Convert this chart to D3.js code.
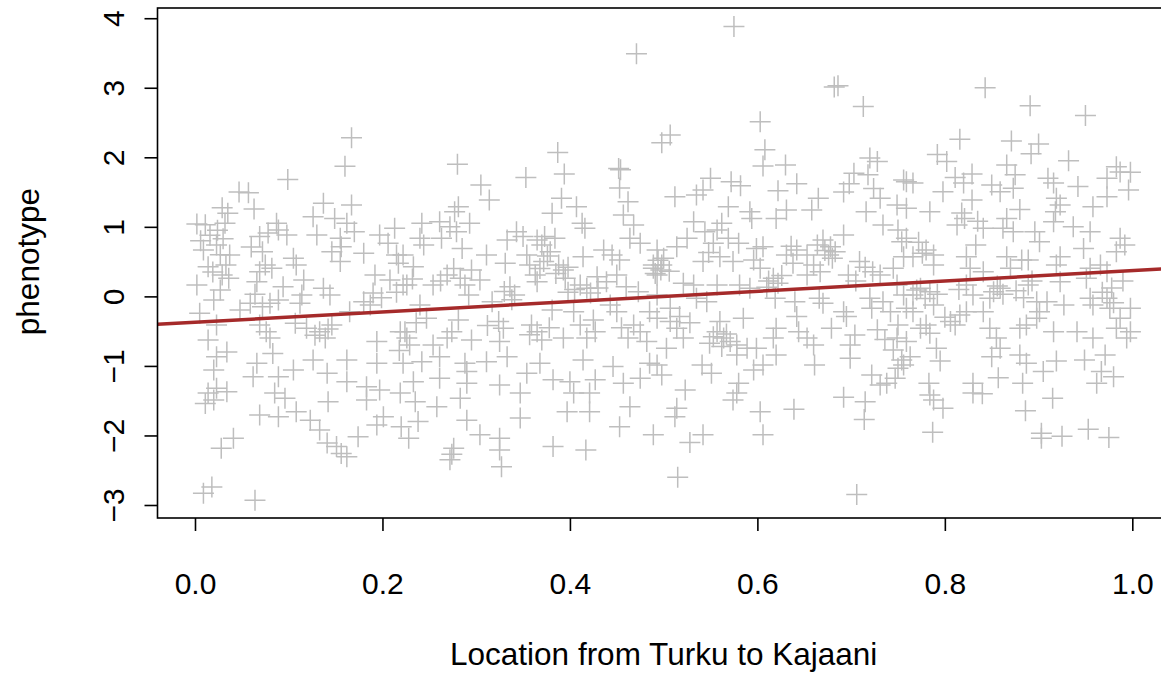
<!DOCTYPE html>
<html>
<head>
<meta charset="utf-8">
<script src="https://cdn.jsdelivr.net/npm/d3@7"></script>
<style>
  html, body { margin: 0; padding: 0; background: #fff; }
  svg { display: block; font-family: "Liberation Sans", Arial, Helvetica, sans-serif; }
</style>
</head>
<body>
<svg width="1161" height="673"></svg>
<script>
// observations: [location (0 = Turku, 1 = Kajaani), phenotype]
const obs = [
  [0.167,2.28],[0.160,1.87],[0.099,1.68],[0.047,1.50],[0.057,1.49],
  [0.471,3.49],[0.280,1.90],[0.305,1.60],[0.353,1.71],[0.387,2.07],[0.394,1.76],[0.452,1.84],[0.454,1.82],[0.453,1.56],
  [0.498,2.21],[0.507,2.32],[0.575,3.88],[0.603,2.51],[0.608,2.11],[0.606,1.875],[0.630,1.89],[0.550,1.70],[0.572,1.65],
  [0.582,1.59],[0.642,1.62],[0.622,1.52],[0.682,3.01],[0.686,3.03],[0.713,2.73],[0.720,1.99],[0.728,1.94],[0.703,1.77],
  [0.718,1.75],[0.698,1.62],[0.724,1.55],[0.756,1.675],
  [0.843,3.00],[0.891,2.74],[0.950,2.60],[0.816,2.26],[0.871,2.235],[0.900,2.19],[0.892,2.05],[0.792,2.04],[0.802,1.94],
  [0.932,1.95],[0.866,1.89],[0.875,1.75],[0.829,1.76],[0.811,1.71],[0.820,1.63],[0.983,1.865],[0.987,1.79],[0.998,1.785],
  [0.973,1.70],[0.910,1.70],[0.916,1.63],[0.759,1.65],[0.766,1.63],[0.850,1.60],[0.942,1.58],

  [0.029,1.276],[0.035,1.195],[0.063,1.257],[0.002,1.04],[0.032,1.05],[0.011,1.03],[0.087,1.05],[0.089,0.955],[0.098,0.883],
  [0.069,0.86],[0.078,0.91],[0.137,1.34],[0.167,1.315],[0.126,1.146],[0.149,1.12],[0.162,1.05],[0.130,0.883],[0.155,0.835],
  [0.156,0.715],[0.146,0.643],[0.155,0.50],[0.180,0.62],[0.197,0.883],[0.206,0.764],[0.215,0.595],[0.217,0.476],[0.192,0.308],
  [0.208,0.236],[0.222,0.164],[0.009,0.667],[0.023,0.74],[0.037,0.595],[0.014,0.427],[0.029,0.308],[0.036,0.26],[0.002,0.164],
  [0.027,0.092],[0.020,-0.052],[0.075,0.45],[0.069,0.355],[0.082,0.404],[0.105,0.548],[0.108,0.45],[0.094,0.14],[0.066,0.21],
  [0.116,0.236],[0.114,0.02],[0.144,0.02],[0.137,0.117],[0.059,-0.1],[0.048,-0.196],[0.080,-0.1],[0.089,-0.052],[0.112,-0.1],
  [0.180,-0.076],[0.187,-0.124],[0.165,-0.22],[0.005,-0.243],[0.023,-0.41],[0.014,-0.627],[0.069,-0.41],[0.076,-0.508],
  [0.080,-0.60],[0.107,-0.387],[0.119,-0.459],[0.133,-0.508],[0.139,-0.60],[0.146,-0.41],[0.194,-0.65],[0.219,-0.508],
  [0.226,-0.60],[0.213,0.98],
  [0.024,0.95],[0.030,0.83],[0.027,0.60],[0.033,0.45],[0.019,0.35],[0.128,-0.56],[0.142,-0.47],
  [0.060,0.71],[0.072,0.64],[0.064,0.03],[0.072,-0.15],[0.190,0.05],[0.199,-0.02],[0.006,0.80],[0.016,0.88],[0.170,0.93],

  [0.314,1.386],[0.281,1.29],[0.277,1.218],[0.391,1.41],[0.407,1.29],[0.381,1.195],[0.462,1.36],[0.457,1.17],[0.468,1.027],
  [0.464,0.835],[0.475,0.764],[0.242,1.05],[0.261,1.074],[0.272,1.0],[0.293,1.05],[0.279,0.93],[0.240,0.835],[0.244,0.74],
  [0.263,0.835],[0.285,0.69],[0.311,0.595],[0.331,0.476],[0.343,0.93],[0.350,0.86],[0.333,0.81],[0.365,0.81],[0.373,0.86],
  [0.384,0.835],[0.370,0.74],[0.379,0.643],[0.372,0.50],[0.354,0.595],[0.357,0.45],[0.363,0.308],[0.365,0.21],[0.388,0.45],
  [0.393,0.38],[0.395,0.26],[0.413,1.05],[0.416,0.98],[0.414,0.57],[0.436,0.667],[0.445,0.595],[0.453,0.523],[0.411,0.164],
  [0.418,0.117],[0.429,0.283],[0.439,0.21],[0.450,0.308],[0.460,0.14],[0.489,0.45],[0.491,0.33],[0.473,0.068],[0.222,0.595],
  [0.233,0.427],[0.226,0.164],[0.254,0.164],[0.269,0.308],[0.288,0.164],[0.295,0.38],[0.304,0.236],[0.292,0.02],[0.336,0.14],
  [0.341,0.02],[0.317,-0.076],[0.240,-0.124],[0.247,-0.315],[0.281,-0.34],[0.274,-0.508],[0.269,-0.60],[0.295,-0.627],
  [0.224,-0.508],[0.324,-0.36],[0.329,-0.459],[0.325,-0.65],[0.359,-0.41],[0.365,-0.508],[0.370,-0.627],[0.381,-0.196],
  [0.404,-0.22],[0.411,-0.41],[0.425,-0.34],[0.427,-0.508],[0.393,-0.60],[0.418,-0.60],[0.443,-0.124],[0.450,-0.22],
  [0.468,-0.41],[0.475,-0.508],[0.485,-0.22],[0.482,-0.65],[0.254,-0.70],[0.229,-0.70],
  [0.405,0.10],[0.422,0.05],[0.430,0.12],[0.398,0.06],[0.385,0.33],[0.398,0.42],[0.494,0.52],[0.497,0.38],
  [0.215,0.06],[0.232,0.25],[0.276,0.40],[0.283,0.26],[0.262,0.22],[0.330,0.07],[0.338,-0.05],[0.376,0.58],[0.368,0.40],
  [0.236,-0.38],[0.218,-0.78],[0.312,-0.42],[0.357,-0.55],[0.378,-0.45],[0.455,-0.45],[0.462,-0.60],

  [0.512,1.434],[0.535,1.458],[0.542,1.53],[0.569,1.29],[0.592,1.218],[0.594,1.12],[0.631,1.243],[0.620,1.12],[0.665,1.41],
  [0.658,1.243],[0.692,1.50],[0.731,1.41],[0.749,1.315],[0.716,1.218],[0.734,1.027],[0.750,0.955],[0.754,0.787],[0.756,0.57],
  [0.532,1.074],[0.525,0.835],[0.514,0.715],[0.544,0.93],[0.557,0.955],[0.553,0.764],[0.569,0.835],[0.580,0.764],[0.542,0.50],
  [0.560,0.57],[0.574,0.50],[0.599,0.69],[0.606,0.715],[0.596,0.523],[0.603,0.404],[0.493,0.667],[0.489,0.404],[0.498,0.45],
  [0.493,0.308],[0.521,0.188],[0.532,0.164],[0.557,0.164],[0.581,0.164],[0.592,0.117],[0.617,0.26],[0.622,0.188],[0.631,0.595],
  [0.642,0.667],[0.653,0.595],[0.638,0.476],[0.660,0.45],[0.670,0.81],[0.678,0.715],[0.676,0.595],[0.683,0.643],[0.692,0.883],
  [0.697,0.308],[0.709,0.50],[0.723,0.355],[0.731,0.308],[0.745,0.404],[0.749,0.164],[0.667,0.355],[0.653,0.308],[0.493,0.02],
  [0.507,-0.172],[0.493,-0.315],[0.507,-0.36],[0.517,-0.29],[0.514,-0.459],[0.521,-0.60],[0.503,-0.746],[0.535,-0.028],
  [0.546,-0.076],[0.560,-0.36],[0.557,-0.508],[0.564,-0.60],[0.571,-0.65],[0.549,-0.675],[0.585,-0.315],[0.589,-0.746],
  [0.599,-0.746],[0.619,-0.028],[0.620,-0.459],[0.617,-0.60],[0.640,-0.076],[0.642,-0.29],[0.644,-0.508],[0.653,-0.60],
  [0.660,-0.70],[0.666,-0.028],[0.670,-0.1],[0.679,-0.459],[0.692,-0.22],[0.695,-0.29],[0.704,-0.555],[0.699,-0.70],
  [0.720,-0.028],[0.722,-0.172],[0.734,-0.076],[0.742,-0.22],[0.750,-0.41],[0.749,-0.60],[0.745,-0.77],[0.756,0.02],
  [0.562,-0.72],[0.578,-0.70],[0.553,-0.58],[0.567,-0.54],[0.500,0.55],[0.506,0.36],[0.612,0.22],[0.626,0.30],[0.610,0.13],
  [0.672,0.66],[0.680,0.55],[0.664,0.74],
  [0.548,0.63],[0.636,0.72],[0.715,0.42],[0.705,0.22],[0.528,-0.38],[0.728,-0.48],[0.736,-0.62],[0.562,1.05],

  [0.798,1.506],[0.829,1.386],[0.859,1.506],[0.873,1.555],[0.919,1.41],[0.923,1.315],[0.918,1.218],[0.916,1.074],[0.958,1.29],
  [0.973,1.434],[0.996,1.53],[0.759,1.267],[0.784,1.218],[0.813,1.027],[0.821,1.12],[0.841,0.98],[0.866,1.12],[0.873,0.93],
  [0.896,0.93],[0.901,0.787],[0.937,1.0],[0.955,0.93],[0.987,0.835],[0.992,0.74],[0.983,0.643],[0.759,0.835],[0.766,0.57],
  [0.780,0.667],[0.788,0.595],[0.788,0.45],[0.823,0.57],[0.833,0.74],[0.827,0.404],[0.841,0.355],[0.866,0.57],[0.882,0.523],
  [0.889,0.523],[0.870,0.404],[0.923,0.57],[0.919,0.45],[0.948,0.69],[0.955,0.404],[0.966,0.45],[0.973,0.355],[0.951,0.26],
  [0.923,0.21],[0.774,0.117],[0.784,0.068],[0.766,0.02],[0.823,0.164],[0.852,0.068],[0.859,0.117],[0.848,-0.028],[0.889,0.164],
  [0.898,-0.076],[0.759,-0.172],[0.766,-0.22],[0.788,-0.124],[0.780,-0.41],[0.774,-0.459],[0.784,-0.53],[0.759,-0.65],
  [0.816,-0.267],[0.823,-0.22],[0.811,-0.41],[0.791,-0.746],[0.841,-0.22],[0.848,-0.459],[0.855,-0.60],[0.859,-0.746],
  [0.880,-0.459],[0.887,-0.41],[0.898,-0.315],[0.909,-0.076],[0.901,-0.22],[0.916,-0.508],[0.927,-0.124],[0.941,-0.508],
  [0.958,-0.60],[0.955,-0.028],[0.958,-0.124],[0.973,-0.028],[0.976,-0.172],[0.987,-0.315],[0.998,-0.172],[0.998,-0.508],
  [0.994,-0.60],[0.983,-0.459],
  [0.770,0.09],[0.779,-0.03],[0.792,0.03],[0.862,0.03],[0.856,0.15],[0.968,0.06],[0.980,-0.09],[0.818,1.20],[0.835,1.08],
  [0.815,0.10],[0.830,0.02],[0.876,0.08],[0.884,-0.02],[0.893,0.22],[0.800,-0.30],[0.806,-0.36],[0.880,1.25],[0.862,0.98],
  [0.990,0.22],[0.978,0.12],[0.772,0.78],[0.776,0.62],

  [0.023,-0.867],[0.034,-0.80],[0.020,-1.06],[0.014,-1.39],[0.011,-1.54],[0.020,-1.49],[0.034,-1.37],[0.023,-1.32],[0.066,-0.96],
  [0.062,-1.155],[0.083,-0.82],[0.089,-1.155],[0.105,-1.06],[0.085,-1.39],[0.096,-1.465],[0.069,-1.705],[0.089,-1.73],
  [0.108,-1.66],[0.123,-1.78],[0.133,-1.92],[0.041,-2.04],[0.028,-2.185],[0.018,-2.74],[0.009,-2.83],[0.064,-2.93],[0.141,-2.11],
  [0.151,-2.16],[0.156,-2.26],[0.162,-2.305],[0.174,-2.02],[0.142,-1.515],[0.162,-1.227],[0.126,-0.915],[0.141,-1.106],
  [0.162,-0.915],[0.183,-1.30],[0.197,-1.346],[0.183,-1.49],[0.194,-0.96],[0.201,-1.73],[0.194,-1.85],[0.219,-1.39],[0.222,-0.96],
  [0.220,-1.874],[0.228,-2.04],

  [0.233,-1.227],[0.235,-1.515],[0.258,-1.587],[0.238,-1.80],[0.276,-2.185],[0.272,-2.35],[0.274,-2.27],[0.283,-1.465],
  [0.290,-1.78],[0.304,-1.99],[0.325,-2.04],[0.325,-2.21],[0.327,-2.45],[0.325,-1.275],[0.347,-1.39],[0.347,-1.75],[0.290,-1.25],
  [0.261,-1.178],[0.242,-0.94],[0.261,-0.867],[0.288,-0.96],[0.290,-1.08],[0.311,-0.94],[0.333,-0.867],[0.354,-1.106],
  [0.368,-0.96],[0.382,-1.20],[0.400,-1.227],[0.404,-1.39],[0.397,-1.66],[0.421,-1.66],[0.421,-1.39],[0.427,-1.20],[0.414,-0.915],
  [0.382,-2.16],[0.417,-2.21],[0.446,-1.01],[0.457,-1.25],[0.464,-1.587],[0.453,-1.874],[0.475,-1.178],[0.485,-0.96],[0.489,-1.99],

  [0.493,-0.987],[0.498,-1.13],[0.523,-1.346],[0.514,-1.61],[0.512,-1.73],[0.528,-2.10],[0.542,-1.99],[0.515,-2.60],[0.541,-0.987],
  [0.551,-1.106],[0.580,-1.25],[0.578,-1.39],[0.574,-1.49],[0.603,-1.66],[0.606,-1.99],[0.596,-1.06],[0.606,-0.987],[0.578,-0.843],
  [0.620,-0.843],[0.639,-1.624],[0.661,-0.987],[0.692,-1.45],[0.715,-1.515],[0.714,-1.77],[0.706,-2.85],[0.699,-0.89],[0.722,-1.13],
  [0.731,-1.275],[0.738,-1.25],[0.747,-1.178],[0.750,-1.034],[0.754,-0.915],

  [0.763,-0.867],[0.756,-0.987],[0.795,-0.93],[0.783,-1.25],[0.784,-1.418],[0.788,-1.49],[0.798,-1.61],[0.787,-1.955],[0.830,-1.25],
  [0.830,-1.39],[0.840,-1.40],[0.857,-1.17],[0.850,-0.867],[0.883,-1.25],[0.887,-0.96],[0.880,-0.843],[0.905,-1.08],[0.919,-0.93],
  [0.915,-1.465],[0.886,-1.644],[0.903,-1.97],[0.903,-2.04],[0.925,-2.01],[0.953,-1.91],[0.975,-2.03],[0.949,-0.915],[0.971,-0.843],
  [0.967,-1.08],[0.980,-1.155],[0.962,-1.25]
];

// fitted line: phenotype = intercept + slope * location
const intercept = -0.372;
const slope = 0.743;

const xTicks = [0, 0.2, 0.4, 0.6, 0.8, 1.0];
const yTicks = [-3, -2, -1, 0, 1, 2, 3, 4];
const xTitle = "Location from Turku to Kajaani";
const yTitle = "phenotype";

// plot region (the right and top edges run a little past the page)
const plotLeft = 157.5, plotRight = 1169.8, plotTop = 8, plotBottom = 518;

const x = d3.scaleLinear().domain([-0.04, 1.04]).range([plotLeft, plotRight]);
const y = d3.scaleLinear().domain([-3.187, 4.147]).range([plotBottom, plotTop]);

const svg = d3.select("svg");

svg.append("defs").append("clipPath")
    .attr("id", "plot-clip")
  .append("rect")
    .attr("x", plotLeft).attr("y", plotTop)
    .attr("width", plotRight - plotLeft).attr("height", plotBottom - plotTop);

const plot = svg.append("g").attr("clip-path", "url(#plot-clip)");

// pch = 3 style crosses
const arm = 10.5;
plot.append("g")
    .attr("stroke", "#bebebe")
    .attr("stroke-width", 1.5)
    .attr("fill", "none")
  .selectAll("path")
  .data(obs)
  .join("path")
    .attr("d", d => `M${x(d[0]) - arm},${y(d[1])}h${2 * arm}M${x(d[0])},${y(d[1]) - arm}v${2 * arm}`);

// regression line across the whole region
const [x0, x1] = x.domain();
plot.append("line")
    .attr("x1", x(x0)).attr("y1", y(intercept + slope * x0))
    .attr("x2", x(x1)).attr("y2", y(intercept + slope * x1))
    .attr("stroke", "#a52a2a")
    .attr("stroke-width", 3.5);

// frame
svg.append("rect")
    .attr("x", plotLeft).attr("y", plotTop)
    .attr("width", plotRight - plotLeft).attr("height", plotBottom - plotTop)
    .attr("fill", "none")
    .attr("stroke", "#000")
    .attr("stroke-width", 1.6);

// axes
const fmt = d3.format(".1f");
const xAxis = svg.append("g")
    .attr("transform", `translate(0,${plotBottom})`)
    .call(d3.axisBottom(x).tickValues(xTicks).tickSize(13).tickFormat(fmt));
xAxis.select(".domain").remove();
xAxis.selectAll(".tick line").attr("stroke", "#000").attr("stroke-width", 1.6);
xAxis.selectAll(".tick text")
    .attr("y", 0).attr("dy", null)
    .attr("transform", "translate(0,76)")
    .attr("fill", "#000")
    .style("font-size", "30px")
    .style("font-family", "'Liberation Sans', Arial, sans-serif");

const yAxis = svg.append("g")
    .attr("transform", `translate(${plotLeft},0)`)
    .call(d3.axisLeft(y).tickValues(yTicks).tickSize(13).tickFormat(d => d3.format("d")(d)));
yAxis.select(".domain").remove();
yAxis.selectAll(".tick line").attr("stroke", "#000").attr("stroke-width", 1.6);
yAxis.selectAll(".tick text")
    .attr("x", 0).attr("dy", null)
    .attr("text-anchor", "middle")
    .attr("transform", "translate(-34,0) rotate(-90)")
    .attr("fill", "#000")
    .style("font-size", "30px")
    .style("font-family", "'Liberation Sans', Arial, sans-serif");

svg.append("text")
    .attr("x", (x(0) + x(1)) / 2)
    .attr("y", 665)
    .attr("text-anchor", "middle")
    .style("font-size", "31.5px")
    .text(xTitle);

svg.append("text")
    .attr("transform", `translate(39,${(y(-3) + y(4)) / 2}) rotate(-90)`)
    .attr("text-anchor", "middle")
    .style("font-size", "31.5px")
    .text(yTitle);
</script>
</body>
</html>
